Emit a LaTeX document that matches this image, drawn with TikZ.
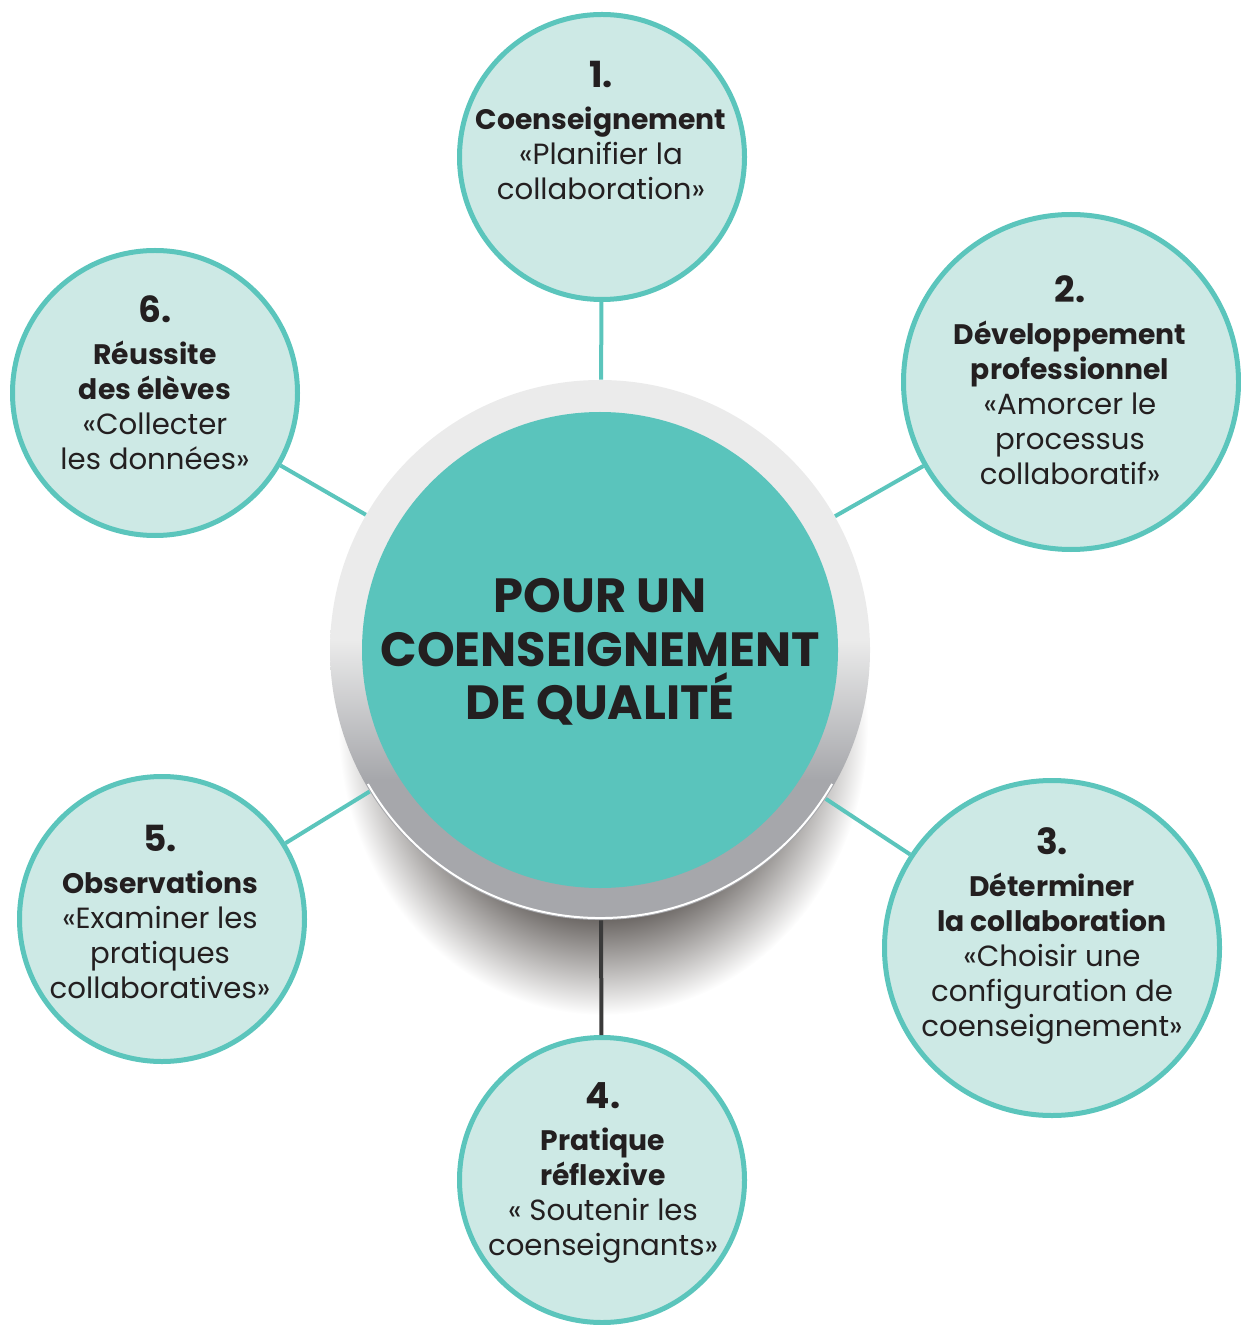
\documentclass[tikz,border=0pt]{standalone}
\usepackage{fontspec}
\setmainfont{Poppins}

\definecolor{coreteal}{HTML}{5AC4BC}
\definecolor{satfill}{HTML}{CDE9E5}
\definecolor{satedge}{HTML}{5BC5BC}
\definecolor{ringlight}{HTML}{EBEBEB}
\definecolor{ringdark}{HTML}{A6A7AB}
\definecolor{shadowgrey}{HTML}{5F5A57}
\definecolor{ink}{HTML}{231F20}
\definecolor{spokedark}{HTML}{3A3A3A}

\pgfdeclareverticalshading{ringfill}{100bp}{color(0bp)=(ringdark); color(38bp)=(ringdark); color(51bp)=(ringlight); color(100bp)=(ringlight)}
\pgfdeclareradialshading{ringshadow}{\pgfpoint{0bp}{0bp}}{color(0bp)=(shadowgrey); color(16bp)=(shadowgrey); color(25bp)=(white); color(50bp)=(white)}

\newcommand\hd[1]{{\fontsize{14.1}{17.5}\selectfont\bfseries #1}}

\begin{document}
\begin{tikzpicture}[x=0.5pt, y=-0.5pt,
  sat/.style={circle, draw=satedge, fill=satfill, line width=2.5pt, minimum size=142.5pt, inner sep=0pt},
  bigsat/.style={sat, minimum size=167.5pt},
  sattext/.style={anchor=north, align=center, inner sep=0pt, text=ink, font=\fontsize{14.6}{17.5}\selectfont},
  spoke/.style={draw=satedge, line width=2pt}]
\useasboundingbox (0,0) rectangle (1240,1325);

% shadow under the ring
\shade[shading=ringshadow] (603,725) ellipse [x radius=265, y radius=290];

\node[circle, shade, shading=ringfill, minimum size=270pt, inner sep=0pt] (ring) at (600,650) {};
\draw[white, line width=1pt] (ring.center) ++(210:134pt) arc[start angle=210, end angle=330, radius=134pt];
\node[circle, fill=coreteal, minimum size=238pt, inner sep=0pt] (core) at (600,650) {};
\node[anchor=north, align=center, inner sep=0pt, text=ink, font=\fontsize{24}{26.75}\selectfont\bfseries] (title) at (600,578)
  {POUR UN\\COENSEIGNEMENT\\DE QUALITÉ};

\node[sat] (s1) at (602,157) {};
\node[bigsat] (s2) at (1071,382) {};
\node[bigsat] (s3) at (1052,948) {};
\node[sat] (s4) at (602,1180) {};
\node[sat] (s5) at (162,919) {};
\node[sat] (s6) at (155,393) {};

\draw[spoke] (s1) -- (ring);
\draw[spoke] (s2) -- (ring);
\draw[spoke] (s3) -- (ring);
\draw[spoke, draw=spokedark] (s4) -- (ring);
\draw[spoke] (s5) -- (ring);
\draw[spoke] (s6) -- (ring);

\node[sattext] (t1) at (601,61) {{\fontsize{18}{17.5}\selectfont\bfseries 1.}\\[3.5pt]
  \hd{Coenseignement}\\«Planifier la\\collaboration»};
\node[sattext] (t2) at (1070,275) {{\fontsize{18}{17.5}\selectfont\bfseries 2.}\\[3.5pt]
  \hd{Développement}\\\hd{professionnel}\\«Amorcer le\\processus\\collaboratif»};
\node[sattext] (t3) at (1052,827) {{\fontsize{18}{17.5}\selectfont\bfseries 3.}\\[3.5pt]
  \hd{Déterminer}\\\hd{la collaboration}\\«Choisir une\\configuration de\\coenseignement»};
\node[sattext] (t4) at (603,1082) {{\fontsize{18}{17.5}\selectfont\bfseries 4.}\\[3.5pt]
  \hd{Pratique}\\\hd{réflexive}\\« Soutenir les\\coenseignants»};
\node[sattext] (t5) at (160,825) {{\fontsize{18}{17.5}\selectfont\bfseries 5.}\\[3.5pt]
  \hd{Observations}\\«Examiner les\\pratiques\\collaboratives»};
\node[sattext] (t6) at (155,295) {{\fontsize{18}{17.5}\selectfont\bfseries 6.}\\[3.5pt]
  \hd{Réussite}\\\hd{des élèves}\\«Collecter\\les données»};
\end{tikzpicture}
\end{document}
